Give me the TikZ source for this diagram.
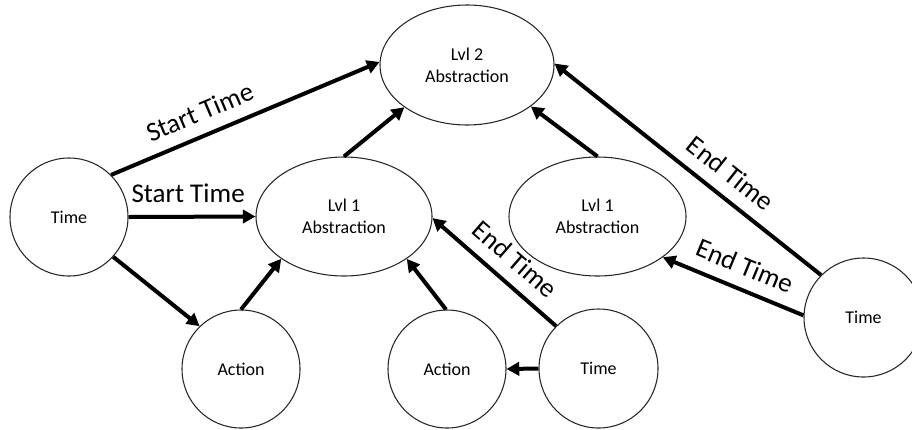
\documentclass[tikz,border=0pt]{standalone}
\usepackage{fontspec}
\setmainfont{Carlito}
\usetikzlibrary{shapes.geometric,arrows.meta}

\tikzset{
  box/.style={draw=black!85, line width=0.8pt, inner sep=0pt, align=center,
              font=\fontsize{13.5}{16.5}\selectfont},
  oval/.style={box, ellipse},
  round/.style={box, circle, minimum size=#1},
  link/.style={line width=3pt, -{Triangle[length=9.5pt,width=10pt]}},
  tag/.style={sloped, above=10.5pt, inner sep=0pt, outer sep=0pt,
              font=\fontsize{20.3}{22}\selectfont},
}

\begin{document}
\begin{tikzpicture}[x=0.75pt, y=-0.75pt]
  \useasboundingbox (0,0) rectangle (912,429);
  \clip (0,0) rectangle (912,429);

  % abstraction levels
  \node[oval, minimum width=130.5pt, minimum height=90pt] (lvltwo) at (467,65) {Lvl 2\\Abstraction};
  \node[oval, minimum width=132pt, minimum height=89.25pt] (lvlone) at (344,216.5) {Lvl 1\\Abstraction};
  \node[oval, minimum width=132.75pt, minimum height=89.25pt] (lvlonebis) at (597.5,216.5) {Lvl 1\\Abstraction};

  % time and action sources
  \node[round=88.5pt] (timeleft) at (69,217) {Time};
  \node[round=88.5pt] (actleft) at (241,369) {Action};
  \node[round=88.5pt] (actmid) at (447,369) {Action};
  \node[round=89.25pt] (timemid) at (598.5,368.5) {Time};
  \node[round=89.25pt] (timeright) at (863.5,317.5) {Time};

  % connectors
  \draw[link] (timeleft.45) -- node[tag, pos=0.364] {Start Time} (lvltwo.178);
  \draw[link] (timeleft.east) -- node[tag, pos=0.47] {Start Time} (lvlone.west);
  \draw[link] (timeleft.-42) -- (actleft.134);
  \draw[link] (actleft.90) -- (lvlone.214);
  \draw[link] (actmid.91) -- (lvlone.-34);
  \draw[link] (timemid.135) -- node[tag, pos=0.455] {End Time} (lvlone.-1);
  \draw[link] (timemid.west) -- (actmid.east);
  \draw[link] (lvlone.90) -- (lvltwo.214);
  \draw[link] (lvlonebis.90) -- (lvltwo.-33);
  \draw[link] (timeright.135) -- node[tag, pos=0.394] {End Time} (lvltwo.1);
  \draw[link] (timeright.178) -- node[tag, pos=0.479] {End Time} (lvlonebis.-32);
\end{tikzpicture}
\end{document}
